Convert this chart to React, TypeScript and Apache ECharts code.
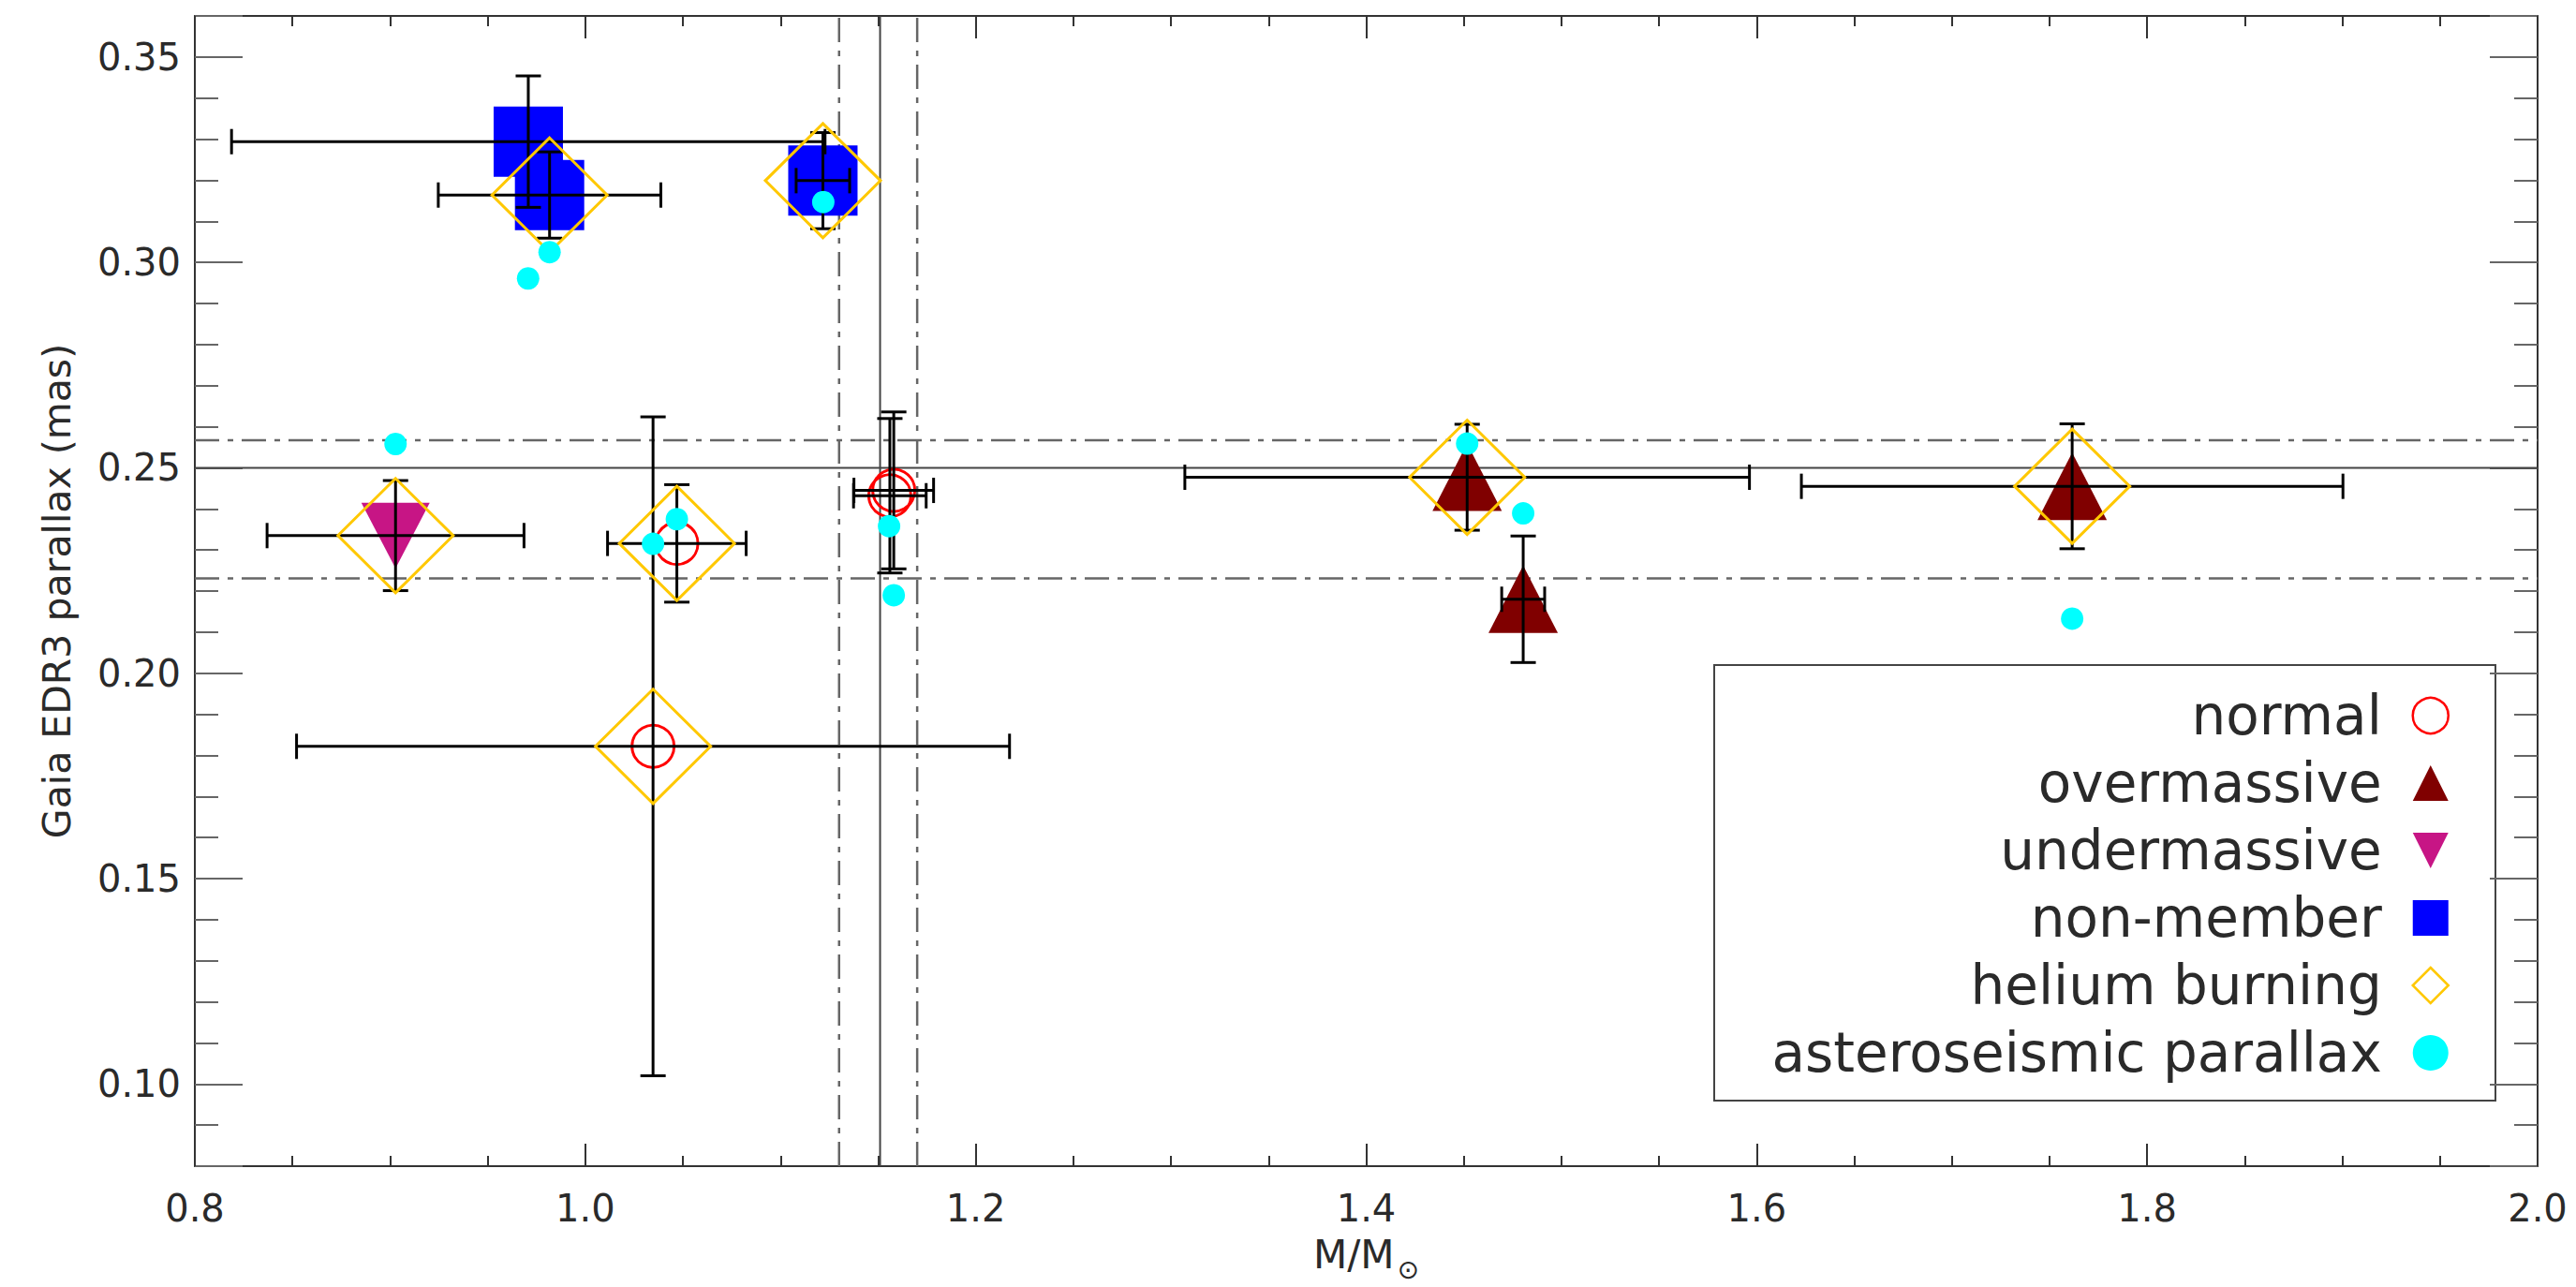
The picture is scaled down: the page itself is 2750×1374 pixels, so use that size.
import React, { useEffect, useRef } from "react";
import * as echarts from "echarts";

// ---------------- data ----------------
const xMin = 0.8;
const xMax = 2.0;
const yMin = 0.08;
const yMax = 0.36;

// normal stars: mass (M/Msun), Gaia parallax (mas), errors
const normalMass = [1.0469, 1.0347, 1.158, 1.156];
const normalPlx = [0.2316, 0.1822, 0.2445, 0.2432];
const normalMassErr = [0.0355, 0.1826, 0.0204, 0.0186];
const normalPlxErr = [0.0143, 0.0802, 0.0191, 0.0188];

// overmassive stars
const overMass = [1.4517, 1.4804, 1.7616];
const overPlx = [0.2477, 0.218, 0.2455];
const overMassErr = [0.1446, 0.011, 0.1387];
const overPlxErr = [0.0129, 0.0154, 0.0152];

// undermassive stars
const underMass = [0.9028];
const underPlx = [0.2335];
const underMassErr = [0.0658];
const underPlxErr = [0.0134];

// non-members
const nonMemberMass = [0.9708, 0.9817, 1.1217];
const nonMemberPlx = [0.3294, 0.3164, 0.3199];
const nonMemberMassErr = [0.152, 0.057, 0.0137];
const nonMemberPlxErr = [0.016, 0.0105, 0.0117];

// helium burning flags (positions of flagged stars)
const heliumMass = [0.9817, 1.1217, 0.9028, 1.0469, 1.0347, 1.4517, 1.7616];
const heliumPlx = [0.3164, 0.3199, 0.2335, 0.2316, 0.1822, 0.2477, 0.2455];

// asteroseismic parallaxes
const asteroMass = [0.9817, 0.9707, 1.1219, 0.9028, 1.0469, 1.0347, 1.1556, 1.158, 1.4517, 1.4804, 1.7616];
const asteroPlx = [0.3025, 0.2961, 0.3147, 0.2558, 0.2375, 0.2315, 0.2358, 0.219, 0.2559, 0.2389, 0.2133];

// reference lines
const clusterPlx = [0.25];
const clusterPlxBand = [0.2567, 0.2231];
const turnoffMass = [1.151];
const turnoffMassBand = [1.13, 1.17];

// legend labels
const legendNames = ["normal", "overmassive", "undermassive", "non-member", "helium burning", "asteroseismic parallax"];

// ---------------- styling ----------------
const FONT = "DejaVu Sans";
const TXT = "#2a2a2a";
const AX = "#333";
const DOWN_TRI = "path://M0,0L10,0L5,10Z";

const zip = (a: number[], b: number[]) => a.map((v, i) => [v, b[i]]);
const zip4 = (a: number[], b: number[], c: number[], d: number[]) => a.map((v, i) => [v, b[i], c[i], d[i]]);

function xAxisCfg(position: string, interval: number, len: number, major: boolean) {
  return {
    type: "value",
    min: xMin,
    max: xMax,
    interval,
    position,
    axisLine: { show: major, onZero: false, lineStyle: { color: AX, width: 2 } },
    axisTick: { show: true, inside: true, length: len, lineStyle: { color: AX, width: 2 } },
    axisLabel: { show: false },
    splitLine: { show: false },
  } as any;
}

function yAxisCfg(position: string, major: boolean) {
  const cfg: any = {
    type: "value",
    min: yMin,
    max: yMax,
    position,
    axisLine: { show: major, onZero: false, lineStyle: { color: AX, width: 2 } },
    axisTick: { show: true, inside: true, length: major ? 51 : 25, lineStyle: { color: "#666", width: 2 } },
    axisLabel: { show: false },
    splitLine: { show: false },
  };
  if (major) cfg.splitNumber = 5;
  else cfg.interval = 0.01;
  return cfg;
}

function refLine(points: number[][], dashed: boolean) {
  return {
    type: "line",
    data: points,
    symbol: "none",
    silent: true,
    z: 1,
    lineStyle: dashed
      ? { color: "#666", width: 2.5, type: [26, 9, 6, 9] }
      : { color: "#444", width: 2, type: "solid" },
  } as any;
}

export default function App() {
  const ref = useRef<HTMLDivElement>(null);

  useEffect(() => {
    document.body.style.margin = "0";
    if (!ref.current) return;
    const chart = echarts.init(ref.current, null, { renderer: "svg" });

    const errorData = [
      ...zip4(normalMass, normalPlx, normalMassErr, normalPlxErr),
      ...zip4(overMass, overPlx, overMassErr, overPlxErr),
      ...zip4(underMass, underPlx, underMassErr, underPlxErr),
      ...zip4(nonMemberMass, nonMemberPlx, nonMemberMassErr, nonMemberPlxErr),
    ];

    const xBottom = xAxisCfg("bottom", 0.2, 24, true);
    xBottom.axisLabel = {
      show: true,
      margin: 25,
      fontSize: 40,
      fontFamily: FONT,
      color: TXT,
      formatter: (v: number) => v.toFixed(1),
    };
    xBottom.name = "{m|M/M}{s|⊙}";
    xBottom.nameLocation = "middle";
    xBottom.nameGap = 73;
    xBottom.nameTextStyle = {
      fontFamily: FONT,
      color: TXT,
      rich: {
        m: { fontSize: 42, height: 42, verticalAlign: "top", fontFamily: FONT, color: TXT },
        s: { fontSize: 28, height: 74, verticalAlign: "top", fontFamily: FONT, color: TXT, padding: [0, 0, 0, 3] },
      },
    };

    const yLeft = yAxisCfg("left", true);
    yLeft.axisLabel = {
      show: true,
      margin: 15,
      fontSize: 40,
      fontFamily: FONT,
      color: TXT,
      formatter: (v: number) => {
        const k = v / 0.05;
        return Math.abs(k - Math.round(k)) < 1e-6 ? v.toFixed(2) : "";
      },
    };
    yLeft.name = "Gaia EDR3 parallax (mas)";
    yLeft.nameLocation = "middle";
    yLeft.nameRotate = 90;
    yLeft.nameGap = 127;
    yLeft.nameTextStyle = { fontSize: 41, fontFamily: FONT, color: TXT };

    const option: any = {
      animation: false,
      backgroundColor: "#ffffff",
      grid: { left: 208, right: 41, top: 17, bottom: 125, containLabel: false },
      xAxis: [
        xBottom,
        xAxisCfg("bottom", 0.05, 11, false),
        xAxisCfg("top", 0.2, 24, true),
        xAxisCfg("top", 0.05, 11, false),
      ],
      yAxis: [yLeft, yAxisCfg("left", false), yAxisCfg("right", true), yAxisCfg("right", false)],
      legend: {
        orient: "vertical",
        align: "right",
        right: 135,
        top: 735,
        padding: 0,
        itemGap: 14,
        itemWidth: 38,
        itemHeight: 38,
        selectedMode: false,
        textStyle: { fontSize: 58, fontFamily: FONT, color: TXT, padding: [0, 28, 0, 0] },
        data: [
          { name: legendNames[0], icon: "circle", itemStyle: { color: "rgba(0,0,0,0)", borderColor: "#ff0000", borderWidth: 2.5, opacity: 1 } },
          { name: legendNames[1], icon: "triangle", itemStyle: { opacity: 1 } },
          { name: legendNames[2], icon: DOWN_TRI, itemStyle: { opacity: 1 } },
          { name: legendNames[3], icon: "rect", itemStyle: { opacity: 1 } },
          { name: legendNames[4], icon: "diamond", itemStyle: { color: "rgba(0,0,0,0)", borderColor: "#ffc800", borderWidth: 2.5, opacity: 1 } },
          { name: legendNames[5], icon: "circle", itemStyle: { opacity: 1 } },
        ],
      },
      graphic: [
        {
          type: "rect",
          shape: { x: 1830, y: 710, width: 834, height: 465 },
          style: { fill: "none", stroke: "#444", lineWidth: 2 },
          silent: true,
          z: 0,
        },
      ],
      series: [
        ...clusterPlx.map((y) => refLine([[xMin, y], [xMax, y]], false)),
        ...clusterPlxBand.map((y) => refLine([[xMin, y], [xMax, y]], true)),
        ...turnoffMass.map((x) => refLine([[x, yMin], [x, yMax]], false)),
        ...turnoffMassBand.map((x) => refLine([[x, yMin], [x, yMax]], true)),
        {
          name: legendNames[3],
          type: "scatter",
          data: zip(nonMemberMass, nonMemberPlx),
          symbol: "rect",
          symbolSize: [74, 75],
          itemStyle: { color: "#0000ff", opacity: 1 },
          z: 2,
        },
        {
          name: legendNames[1],
          type: "scatter",
          data: zip(overMass, overPlx),
          symbol: "triangle",
          symbolSize: [74, 72],
          itemStyle: { color: "#800000", opacity: 1 },
          z: 2,
        },
        {
          name: legendNames[2],
          type: "scatter",
          data: zip(underMass, underPlx),
          symbol: DOWN_TRI,
          symbolKeepAspect: false,
          symbolSize: [73, 70],
          itemStyle: { color: "#c71585", opacity: 1 },
          z: 2,
        },
        {
          name: legendNames[0],
          type: "scatter",
          data: zip(normalMass, normalPlx),
          symbol: "circle",
          symbolSize: 45,
          itemStyle: { color: "rgba(0,0,0,0)", borderColor: "#ff0000", borderWidth: 3, opacity: 1 },
          z: 3,
        },
        {
          name: "error bars",
          type: "custom",
          data: errorData,
          encode: { x: 0, y: 1 },
          z: 4,
          silent: true,
          renderItem: (_params: any, api: any) => {
            const x = api.value(0);
            const y = api.value(1);
            const ex = api.value(2);
            const ey = api.value(3);
            const l = api.coord([x - ex, y]);
            const r = api.coord([x + ex, y]);
            const t = api.coord([x, y + ey]);
            const b = api.coord([x, y - ey]);
            const cap = 13.5;
            const style = { stroke: "#000", lineWidth: 3 };
            const ln = (x1: number, y1: number, x2: number, y2: number) => ({
              type: "line",
              shape: { x1, y1, x2, y2 },
              style,
            });
            return {
              type: "group",
              children: [
                ln(l[0], l[1], r[0], r[1]),
                ln(l[0], l[1] - cap, l[0], l[1] + cap),
                ln(r[0], r[1] - cap, r[0], r[1] + cap),
                ln(t[0], t[1], b[0], b[1]),
                ln(t[0] - cap, t[1], t[0] + cap, t[1]),
                ln(b[0] - cap, b[1], b[0] + cap, b[1]),
              ],
            };
          },
        },
        {
          name: legendNames[4],
          type: "scatter",
          data: zip(heliumMass, heliumPlx),
          symbol: "diamond",
          symbolSize: [123, 122],
          itemStyle: { color: "rgba(0,0,0,0)", borderColor: "#ffc800", borderWidth: 3, opacity: 1 },
          z: 5,
        },
        {
          name: legendNames[5],
          type: "scatter",
          data: zip(asteroMass, asteroPlx),
          symbol: "circle",
          symbolSize: 24,
          itemStyle: { color: "#00ffff", opacity: 1 },
          z: 6,
        },
      ],
    };

    chart.setOption(option);
    return () => {
      chart.dispose();
    };
  }, []);

  return <div ref={ref} style={{ width: 2750, height: 1374 }} />;
}
